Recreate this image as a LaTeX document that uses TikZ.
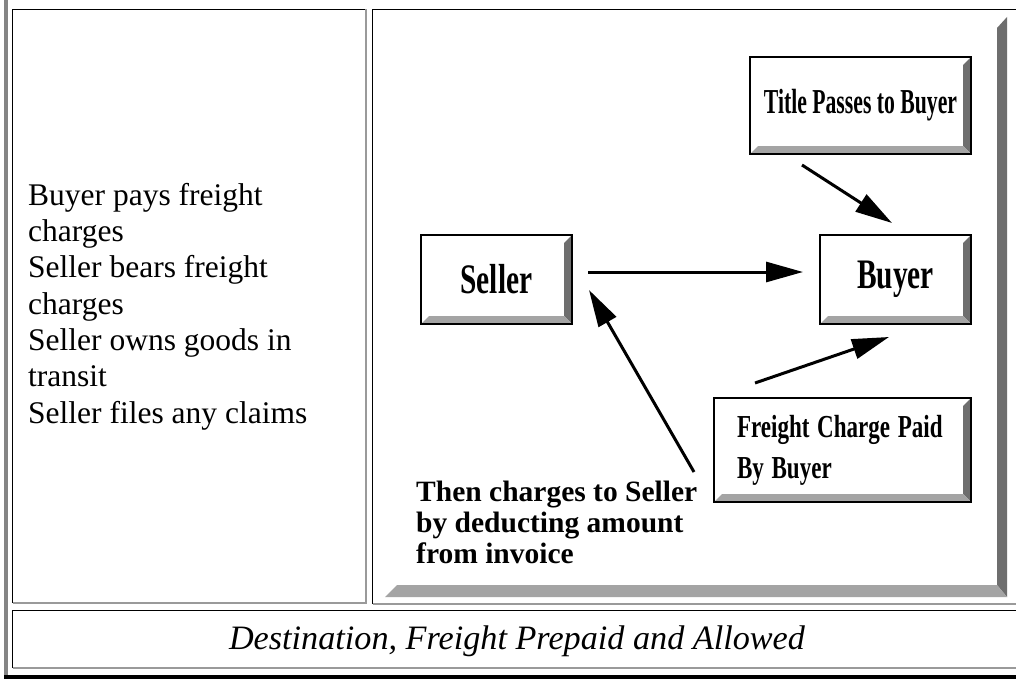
\documentclass[tikz,border=0pt]{standalone}
\usepackage{fontspec}
\setmainfont{Liberation Serif}
\newfontfamily\boxfont{Liberation Serif Bold}
\newfontfamily\notefont{Liberation Serif Bold}
\usetikzlibrary{arrows.meta,calc}
\newcommand{\condT}[1]{\scalebox{0.62}[1]{#1}}
\newcommand{\condF}[1]{\scalebox{0.72}[1]{#1}}
\newcommand{\condS}[1]{\scalebox{0.7}[1]{#1}}
\definecolor{bevdark}{HTML}{6E6E6E}
\definecolor{bevlight}{HTML}{A4A4A4}
\definecolor{cellgray}{HTML}{9A9A9A}
\definecolor{outergray}{HTML}{858585}
\tikzset{
  boxnode/.style={fill=white, inner sep=0pt},
  boxline/.style={draw=black, line width=1.6pt},
  arr/.style={line width=3pt, -{Triangle[length=37pt,width=20pt]}},
  blackline/.style={draw=black, line width=1.8pt},
  grayline/.style={draw=cellgray, line width=1.6pt},
}
\newcommand{\mybevel}[1]{%
  \fill[bevdark] (#1.north east) -- (#1.south east) -- ($(#1.south east)+(-8,-8)$) -- ($(#1.north east)+(-8,8)$) -- cycle;
  \fill[bevlight] (#1.south west) -- (#1.south east) -- ($(#1.south east)+(-8,-8)$) -- ($(#1.south west)+(8,-8)$) -- cycle;
  \draw[boxline] (#1.north west) rectangle (#1.south east);
}
\begin{document}
\begin{tikzpicture}[x=1pt,y=-1pt]
\useasboundingbox (0,0) rectangle (1016,679);
\fill[white] (0,0) rectangle (1016,679);
% outer table borders
\fill[outergray] (3.5,0) rectangle (8,679);
\fill[black] (4,674.5) rectangle (1016,679);
% left cell
\draw[blackline] (12.5,603) -- (12.5,9.5) -- (366,9.5);
\draw[grayline] (366,9.5) -- (366,603) -- (12.5,603);
% right cell
\draw[blackline] (372.5,604) -- (372.5,9.5) -- (1016,9.5);
\draw[grayline] (372.5,604) -- (1016,604);
% bottom cell
\draw[blackline] (12.5,668) -- (12.5,610.5) -- (1016,610.5);
\draw[grayline] (12.5,668) -- (1016,668);
% image frame bevel
\fill[bevdark] (997,28) -- (1007,17) -- (1007,597) -- (997,585) -- cycle;
\fill[bevlight] (385,597) -- (397,585) -- (997,585) -- (1007,597) -- cycle;
% left text
\node[anchor=base west, align=left, inner sep=0pt, font=\fontsize{31.5}{36.3}\selectfont] (lefttext) at (28,423)
  {Buyer pays freight\\charges\\Seller bears freight\\charges\\Seller owns goods in\\transit\\Seller files any claims};
% caption
\node[anchor=base, inner sep=0pt, font=\itshape\fontsize{34.2}{38}\selectfont] (caption) at (517,649)
  {Destination, Freight Prepaid and Allowed};
% boxes
\node[boxnode, minimum width=221pt, minimum height=97pt, font=\boxfont\fontsize{35}{38}\selectfont] (title) at (860.5,105.5) {\condT{Title Passes to Buyer}};
\mybevel{title}
\node[boxnode, minimum width=151pt, minimum height=89pt, font=\boxfont\fontsize{42}{44}\selectfont] (seller) at (496.5,279.5) {\condS{Seller}};
\mybevel{seller}
\node[boxnode, minimum width=151pt, minimum height=89pt, font=\boxfont\fontsize{42}{44}\selectfont] (buyer) at (895.5,279.5) {\condS{Buyer}};
\mybevel{buyer}
\node[boxnode, minimum width=257pt, minimum height=104pt, text width=211pt, align=left, font=\boxfont\fontsize{32}{41}\selectfont] (freight) at (842.5,450) {\condF{Freight Charge Paid}\\\condF{By Buyer}};
\mybevel{freight}
% note text
\node[anchor=base west, align=left, inner sep=0pt, font=\notefont\fontsize{29.5}{31}\selectfont] (note) at (416,563)
  {Then charges to Seller\\by deducting amount\\from invoice};
% arrow end points
\coordinate (sbA) at (588,272);
\coordinate (sbB) at (803,272);
\coordinate (tbA) at (802,165);
\coordinate (tbB) at (892,223);
\coordinate (fbA) at (755,383);
\coordinate (fbB) at (889,337);
\coordinate (nsA) at (694,472);
\coordinate (nsB) at (589,290);
\draw[arr] (sbA) -- (sbB);
\draw[arr] (tbA) -- (tbB);
\draw[arr] (fbA) -- (fbB);
\draw[arr] (nsA) -- (nsB);
\end{tikzpicture}
\end{document}
